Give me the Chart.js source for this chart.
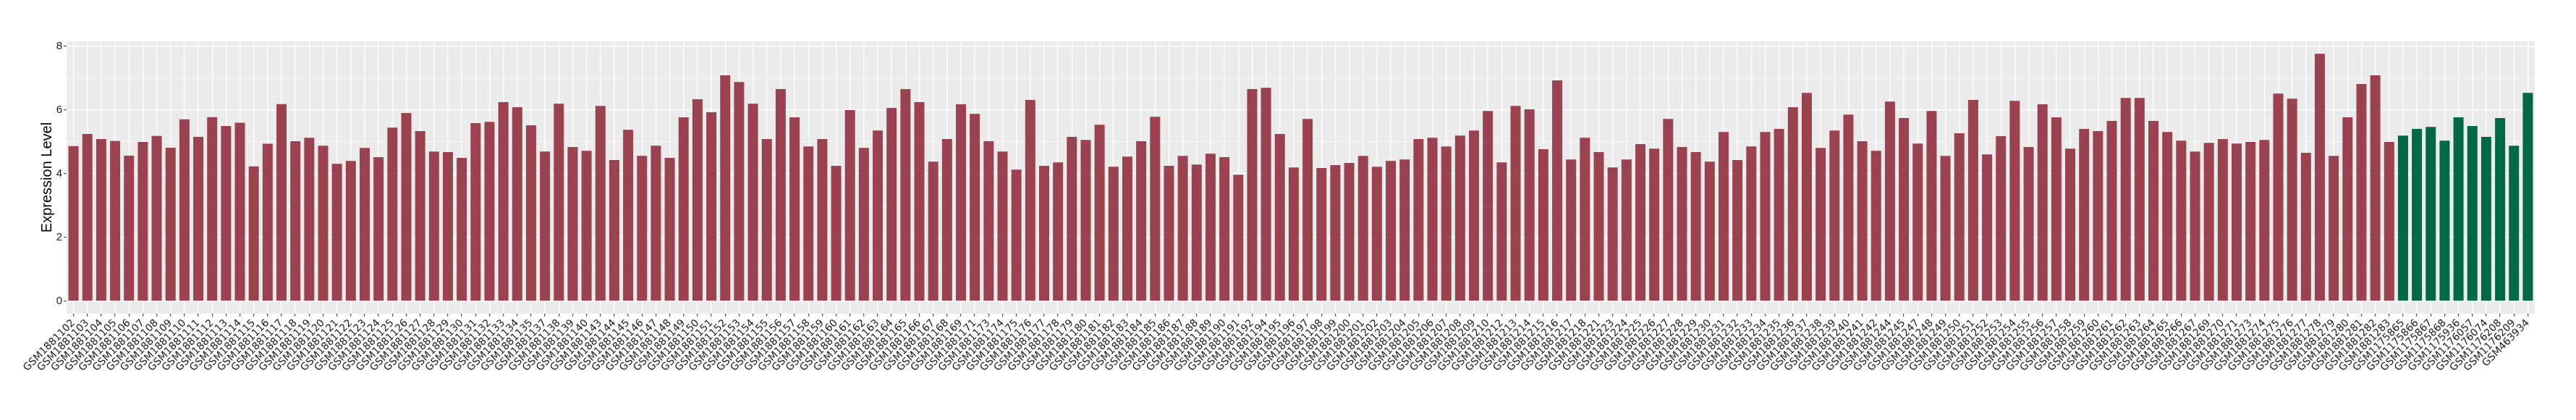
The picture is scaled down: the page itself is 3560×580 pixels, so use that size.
<!DOCTYPE html>
<html>
<head>
<meta charset="utf-8">
<title>Expression Level</title>
<script src="https://cdn.jsdelivr.net/npm/chart.js@4.4.1/dist/chart.umd.min.js"></script>
<style>
    html, body { margin: 0; padding: 0; background: #ffffff; }
    #grafico { display: block; }
</style>
</head>
<body>
<canvas id="grafico" width="3560" height="580"></canvas>
<script>
// amostras tumor (vermelho) e normais (verde)
const tumorSamples = [
    'GSM1881102','GSM1881103','GSM1881104','GSM1881105','GSM1881106','GSM1881107','GSM1881108','GSM1881109',
    'GSM1881110','GSM1881111','GSM1881112','GSM1881113','GSM1881114','GSM1881115','GSM1881116','GSM1881117',
    'GSM1881118','GSM1881119','GSM1881120','GSM1881121','GSM1881122','GSM1881123','GSM1881124','GSM1881125',
    'GSM1881126','GSM1881127','GSM1881128','GSM1881129','GSM1881130','GSM1881131','GSM1881132','GSM1881133',
    'GSM1881134','GSM1881135','GSM1881137','GSM1881138','GSM1881139','GSM1881140','GSM1881143','GSM1881144',
    'GSM1881145','GSM1881146','GSM1881147','GSM1881148','GSM1881149','GSM1881150','GSM1881151','GSM1881152',
    'GSM1881153','GSM1881154','GSM1881155','GSM1881156','GSM1881157','GSM1881158','GSM1881159','GSM1881160',
    'GSM1881161','GSM1881162','GSM1881163','GSM1881164','GSM1881165','GSM1881166','GSM1881167','GSM1881168',
    'GSM1881169','GSM1881171','GSM1881173','GSM1881174','GSM1881175','GSM1881176','GSM1881177','GSM1881178',
    'GSM1881179','GSM1881180','GSM1881181','GSM1881182','GSM1881183','GSM1881184','GSM1881185','GSM1881186',
    'GSM1881187','GSM1881188','GSM1881189','GSM1881190','GSM1881191','GSM1881192','GSM1881194','GSM1881195',
    'GSM1881196','GSM1881197','GSM1881198','GSM1881199','GSM1881200','GSM1881201','GSM1881202','GSM1881203',
    'GSM1881204','GSM1881205','GSM1881206','GSM1881207','GSM1881208','GSM1881209','GSM1881210','GSM1881212',
    'GSM1881213','GSM1881214','GSM1881215','GSM1881216','GSM1881217','GSM1881218','GSM1881221','GSM1881223',
    'GSM1881224','GSM1881225','GSM1881226','GSM1881227','GSM1881228','GSM1881229','GSM1881230','GSM1881231',
    'GSM1881232','GSM1881233','GSM1881234','GSM1881235','GSM1881236','GSM1881237','GSM1881238','GSM1881239',
    'GSM1881240','GSM1881241','GSM1881242','GSM1881244','GSM1881245','GSM1881247','GSM1881248','GSM1881249',
    'GSM1881250','GSM1881251','GSM1881252','GSM1881253','GSM1881254','GSM1881255','GSM1881256','GSM1881257',
    'GSM1881258','GSM1881259','GSM1881260','GSM1881261','GSM1881262','GSM1881263','GSM1881264','GSM1881265',
    'GSM1881266','GSM1881267','GSM1881269','GSM1881270','GSM1881271','GSM1881273','GSM1881274','GSM1881275',
    'GSM1881276','GSM1881277','GSM1881278','GSM1881279','GSM1881280','GSM1881281','GSM1881282','GSM1881283'
];
const tumorValues = [
    4.87, 5.25, 5.09, 5.03, 4.57, 5.00, 5.19, 4.82,
    5.71, 5.16, 5.78, 5.50, 5.60, 4.23, 4.94, 6.19,
    5.02, 5.13, 4.88, 4.31, 4.40, 4.81, 4.52, 5.45,
    5.91, 5.34, 4.70, 4.68, 4.50, 5.59, 5.63, 6.25,
    6.09, 5.52, 4.70, 6.20, 4.84, 4.72, 6.13, 4.43,
    5.38, 4.56, 4.88, 4.50, 5.77, 6.34, 5.93, 7.09,
    6.88, 6.20, 5.09, 6.66, 5.77, 4.86, 5.09, 4.25,
    6.00, 4.81, 5.36, 6.07, 6.66, 6.25, 4.38, 5.09,
    6.18, 5.88, 5.02, 4.70, 4.13, 6.32, 4.25, 4.36,
    5.16, 5.06, 5.54, 4.22, 4.54, 5.02, 5.79, 4.25,
    4.56, 4.29, 4.63, 4.52, 3.97, 6.66, 6.70, 5.25,
    4.20, 5.72, 4.18, 4.27, 4.34, 4.56, 4.22, 4.40,
    4.45, 5.09, 5.13, 4.86, 5.20, 5.36, 5.97, 4.36,
    6.13, 6.02, 4.77, 6.93, 4.45, 5.13, 4.68, 4.20,
    4.45, 4.93, 4.79, 5.72, 4.84, 4.68, 4.38, 5.31,
    4.43, 4.86, 5.31, 5.41, 6.09, 6.54, 4.81, 5.36,
    5.86, 5.02, 4.72, 6.27, 5.75, 4.95, 5.97, 4.56,
    5.27, 6.32, 4.61, 5.18, 6.29, 4.84, 6.18, 5.77,
    4.79, 5.41, 5.34, 5.66, 6.38, 6.38, 5.66, 5.31,
    5.04, 4.70, 4.97, 5.09, 4.95, 5.00, 5.06, 6.52,
    6.36, 4.66, 7.77, 4.56, 5.77, 6.82, 7.09, 5.00
];
const normalSamples = [
    'GSM1175865','GSM1175866','GSM1175867','GSM1175868','GSM1175936',
    'GSM1176057','GSM1176074','GSM1176208','GSM1176209','GSM463934'
];
const normalValues = [5.20, 5.41, 5.47, 5.04, 5.77, 5.50, 5.16, 5.75, 4.88, 6.54];
const yTicks = [0, 2, 4, 6, 8];

const corTumor = '#9B4250';
const corNormal = '#016846';

const amostras = tumorSamples.concat(normalSamples);
const valores = tumorValues.concat(normalValues);
const cores = tumorSamples.map(() => corTumor).concat(normalSamples.map(() => corNormal));

// fundo cinza do painel (estilo ggplot)
const fundoPainel = {
    id: 'fundoPainel',
    beforeDraw(chart) {
        const { ctx, chartArea } = chart;
        ctx.save();
        ctx.fillStyle = '#EBEBEB';
        ctx.fillRect(chartArea.left, chartArea.top, chartArea.right - chartArea.left, chartArea.bottom - chartArea.top);
        ctx.restore();
    }
};

const ctx = document.getElementById('grafico').getContext('2d');
new Chart(ctx, {
    type: 'bar',
    data: {
        labels: amostras,
        datasets: [{
            data: valores,
            backgroundColor: cores,
            borderWidth: 0,
            categoryPercentage: 1,
            barPercentage: 0.73
        }]
    },
    options: {
        responsive: false,
        animation: false,
        layout: { padding: { top: 57, right: 57, bottom: 0, left: 0 } },
        plugins: {
            legend: { display: false },
            tooltip: { enabled: false }
        },
        scales: {
            x: {
                offset: true,
                grid: {
                    offset: false,
                    color: '#FFFFFF',
                    lineWidth: 1.4,
                    tickColor: '#333333',
                    tickLength: 4,
                    tickWidth: 1
                },
                border: { display: false },
                ticks: {
                    autoSkip: false,
                    minRotation: 45,
                    maxRotation: 45,
                    padding: 1,
                    color: '#1A1A1A',
                    font: { family: 'DejaVu Sans', size: 14 }
                },
                afterFit(scale) { scale.height = 147; }
            },
            y: {
                min: -0.389,
                max: 8.16,
                grid: {
                    color: '#FFFFFF',
                    lineWidth: (c) => (c.tick && yTicks.includes(c.tick.value)) ? 1.4 : 0.7,
                    tickColor: (c) => (c.tick && yTicks.includes(c.tick.value)) ? '#333333' : 'rgba(0,0,0,0)',
                    tickLength: 4,
                    tickWidth: 1
                },
                border: { display: false },
                ticks: {
                    stepSize: 1,
                    includeBounds: false,
                    padding: 2,
                    color: '#1A1A1A',
                    font: { family: 'Liberation Sans', size: 15 },
                    callback: (v) => yTicks.includes(v) ? String(v) : ''
                },
                title: {
                    display: true,
                    text: 'Expression Level',
                    color: '#000000',
                    font: { family: 'Liberation Sans', size: 20 },
                    padding: { top: 53, bottom: 0 }
                },
                afterFit(scale) { scale.width = 92; }
            }
        }
    },
    plugins: [fundoPainel]
});
</script>
</body>
</html>
